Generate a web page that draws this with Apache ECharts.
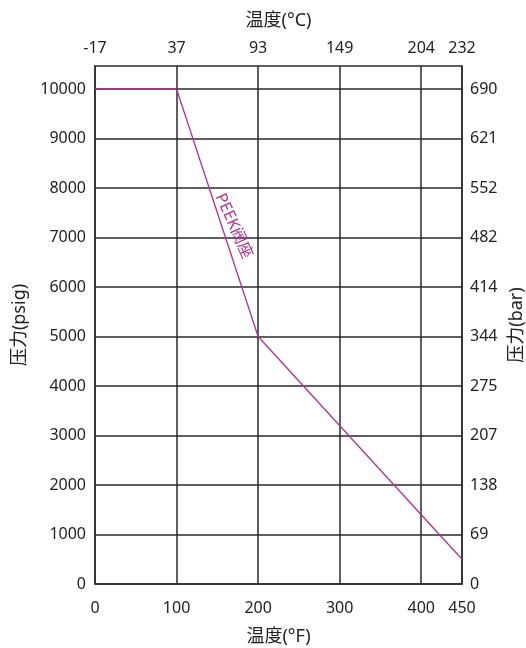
<!DOCTYPE html>
<html><head><meta charset="utf-8">
<script src="https://cdn.jsdelivr.net/npm/echarts@6/dist/echarts.min.js"></script>
<style>html,body{margin:0;padding:0;background:#fff}#c{width:526px;height:648px}</style>
</head><body><div id="c"></div>
<script>
var fTicks = [0, 100, 200, 300, 400, 450];
var cLabels = ['-17', '37', '93', '149', '204', '232'];
var psiTicks = [0, 1000, 2000, 3000, 4000, 5000, 6000, 7000, 8000, 9000, 10000];
var barLabels = ['0', '69', '138', '207', '275', '344', '414', '482', '552', '621', '690'];
var peekF = [0, 100, 200, 450];
var peekPsi = [10000, 10000, 5000, 500];
var seriesName = 'PEEK阀座';

var FONT = '"Noto Sans", "Noto Sans CJK SC", sans-serif';
var TXT = '#222';
var LINE = '#b3308e';
var GRID = '#2a2a2a';
var data = peekF.map(function (f, i) { return [f, peekPsi[i]]; });

var chart = echarts.init(document.getElementById('c'));
var labelStyle = { fontFamily: FONT, fontSize: 16, color: TXT };
var nameStyle = { fontFamily: FONT, fontSize: 18, color: TXT };
function xAx(pos, fmt, name, gap, margin) {
  return {
    type: 'value', position: pos, min: 0, max: 450,
    name: name, nameLocation: 'middle', nameGap: gap,
    nameTextStyle: nameStyle,
    axisLine: { show: true, onZero: false, lineStyle: { color: GRID, width: 1.5 } },
    axisTick: { show: false, customValues: fTicks },
    axisLabel: Object.assign({ customValues: fTicks, margin: margin, formatter: fmt }, labelStyle),
    splitLine: { show: pos === 'bottom', lineStyle: { color: GRID, width: 1.5 } }
  };
}
function yAx(pos, fmt, name, gap, margin) {
  return {
    type: 'value', position: pos, min: 0, max: 10465,
    name: name, nameLocation: 'middle', nameGap: gap,
    nameTextStyle: nameStyle,
    axisLine: { show: true, onZero: false, lineStyle: { color: GRID, width: 1.5 } },
    axisTick: { show: false, customValues: psiTicks },
    axisLabel: Object.assign({ customValues: psiTicks, margin: margin, formatter: fmt }, labelStyle),
    splitLine: { show: pos === 'left', lineStyle: { color: GRID, width: 1.5 } }
  };
}
chart.setOption({
  animation: false,
  grid: { left: 95, right: 64, top: 66, bottom: 64, containLabel: false, outerBoundsMode: 'none' },
  xAxis: [
    xAx('bottom', function (v) { return String(v); }, '温度(°F)', 44, 16),
    xAx('top', function (v) { return cLabels[fTicks.indexOf(v)]; }, '温度(°C)', 36, 10)
  ],
  yAxis: [
    yAx('left', function (v) { return String(v); }, '压力(psig)', 58, 9),
    yAx('right', function (v) { return barLabels[psiTicks.indexOf(v)]; }, '压力(bar)', 38, 8)
  ],
  series: [{
    name: seriesName, type: 'line', data: data, xAxisIndex: 0, yAxisIndex: 0,
    symbol: 'none', lineStyle: { color: LINE, width: 1.3 },
    markPoint: {
      symbol: 'circle', symbolSize: 0,
      data: [{ coord: [170, 7230] }],
      label: { show: true, formatter: seriesName, rotate: -66, color: LINE, fontFamily: FONT, fontSize: 16, position: 'inside' }
    }
  }]
});
</script></body></html>
